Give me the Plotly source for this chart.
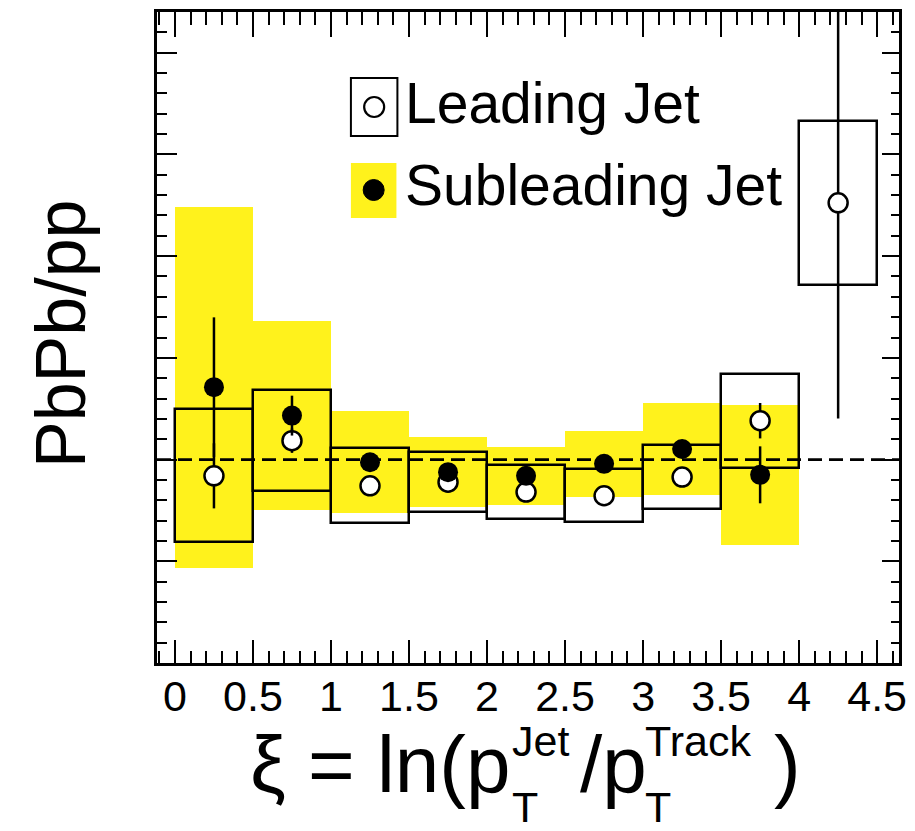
import plotly.graph_objects as go

# xi bins (lower edges), width 0.5
bin_lo = [0.0, 0.5, 1.0, 1.5, 2.0, 2.5, 3.0, 3.5, 4.0]
bin_width = 0.5
xi_mid = [lo + bin_width / 2 for lo in bin_lo]

# Leading jet: PbPb/pp ratio, statistical and systematic (half-height) errors
lead_ratio = [0.92, 1.093, 0.871, 0.889, 0.84, 0.822, 0.914, 1.191, 2.262]
lead_stat = [0.16, 0.06, 0.03, 0.03, 0.03, 0.03, 0.03, 0.087, 1.06]
lead_syst = [0.327, 0.248, 0.184, 0.146, 0.131, 0.13, 0.159, 0.231, 0.403]

# Subleading jet (first eight bins)
sub_ratio = [1.356, 1.216, 0.987, 0.938, 0.92, 0.979, 1.052, 0.925]
sub_stat = [0.343, 0.098, 0.03, 0.03, 0.03, 0.03, 0.03, 0.14]
sub_syst = [0.887, 0.463, 0.25, 0.172, 0.144, 0.163, 0.225, 0.343]

tick_vals = [0, 0.5, 1, 1.5, 2, 2.5, 3, 3.5, 4, 4.5]
tick_text = ["0", "0.5", "1", "1.5", "2", "2.5", "3", "3.5", "4", "4.5"]

X_RANGE = [-0.115, 4.64]
Y_RANGE = [0.0, 3.2]
Y_MAJOR = 0.5
MINOR_STEP = 0.1
REF_LEVEL = 1.0

x_minor = [round(-0.1 + MINOR_STEP * i, 2) for i in range(48)]
y_minor = [round(MINOR_STEP * i, 2) for i in range(33)]
y_major = [round(Y_MAJOR * i, 2) for i in range(7)]

YELLOW = "#fff21c"
FONT = "Liberation Sans, Arial, Helvetica, sans-serif"
LW = 2.5
TW = 2.4

sub_x = xi_mid[:len(sub_ratio)]

fig = go.Figure()

# subleading systematic bands (filled yellow boxes)
fig.add_trace(go.Bar(
    x=sub_x,
    base=[r - s for r, s in zip(sub_ratio, sub_syst)],
    y=[2 * s for s in sub_syst],
    width=bin_width,
    marker=dict(color=YELLOW, line=dict(width=0)),
    showlegend=False,
))

# leading systematic boxes (open black rectangles)
fig.add_trace(go.Bar(
    x=xi_mid,
    base=[r - s for r, s in zip(lead_ratio, lead_syst)],
    y=[2 * s for s in lead_syst],
    width=bin_width,
    marker=dict(color="rgba(0,0,0,0)", line=dict(color="black", width=LW)),
    showlegend=False,
))

# unity reference line
fig.add_trace(go.Scatter(
    x=X_RANGE, y=[REF_LEVEL, REF_LEVEL], mode="lines",
    line=dict(color="black", width=2.8, dash="14px,7px"),
    showlegend=False, hoverinfo="skip",
))

# leading jet points
fig.add_trace(go.Scatter(
    x=xi_mid, y=lead_ratio, mode="markers",
    marker=dict(symbol="circle", size=19, color="white",
                line=dict(color="black", width=LW)),
    error_y=dict(type="data", array=lead_stat, width=0,
                 thickness=LW, color="black"),
    showlegend=False,
))

# subleading jet points
fig.add_trace(go.Scatter(
    x=sub_x, y=sub_ratio, mode="markers",
    marker=dict(symbol="circle", size=20, color="black"),
    error_y=dict(type="data", array=sub_stat, width=0,
                 thickness=LW, color="black"),
    showlegend=False,
))

# invisible traces anchoring the extra tick axes (top/right frame, minor ticks)
for k in (2, 3, 4):
    fig.add_trace(go.Scatter(
        x=X_RANGE, y=[REF_LEVEL, REF_LEVEL], mode="lines",
        line=dict(width=0), opacity=0, xaxis=f"x{k}", yaxis=f"y{k}",
        showlegend=False, hoverinfo="skip",
    ))

# plot area in pixels
L, R, T, B = 157, 8, 12, 168
W, H = 915, 831
PW, PH = W - L - R, H - T - B


def px(xp):
    return (xp - L) / PW


def py(yp):
    return (H - B - yp) / PH


shapes = []
annotations = []

# legend: open box with open circle, yellow box with filled dot
shapes.append(dict(type="rect", xref="paper", yref="paper",
                   x0=px(353), x1=px(400), y0=py(136), y1=py(78),
                   line=dict(color="black", width=2), fillcolor="white"))
shapes.append(dict(type="rect", xref="paper", yref="paper",
                   x0=px(353), x1=px(399), y0=py(218), y1=py(163),
                   line=dict(width=0), fillcolor=YELLOW))
shapes.append(dict(type="circle", xref="paper", yref="paper",
                   xsizemode="pixel", ysizemode="pixel",
                   xanchor=px(376.5), yanchor=py(107),
                   x0=-10, x1=10, y0=-10, y1=10,
                   line=dict(color="black", width=2.2), fillcolor="white"))
shapes.append(dict(type="circle", xref="paper", yref="paper",
                   xsizemode="pixel", ysizemode="pixel",
                   xanchor=px(376), yanchor=py(190),
                   x0=-10.5, x1=10.5, y0=-10.5, y1=10.5,
                   line=dict(color="black", width=1), fillcolor="black"))

annotations.append(dict(text="Leading Jet", xref="paper", yref="paper",
                        x=px(406), y=py(103), xanchor="left", yanchor="middle",
                        showarrow=False, font=dict(family=FONT, size=57, color="black")))
annotations.append(dict(text="Subleading Jet", xref="paper", yref="paper",
                        x=px(406), y=py(185), xanchor="left", yanchor="middle",
                        showarrow=False, font=dict(family=FONT, size=57, color="black")))

# y-axis title
annotations.append(dict(text="PbPb/pp", xref="paper", yref="paper",
                        x=px(60), y=py(334), xanchor="center", yanchor="middle",
                        textangle=-90, showarrow=False,
                        font=dict(family=FONT, size=70, color="black")))

# x-axis title with stacked super/subscripts
big = dict(family=FONT, size=80, color="black")
small = dict(family=FONT, size=43, color="black")
title_parts = [
    ("\u03be = ln(p", px(516), py(764), "right", big),
    ("Jet", px(514), py(741), "left", small),
    ("T", px(514), py(807), "left", small),
    ("/p", px(583), py(764), "left", big),
    ("Track", px(648), py(741), "left", small),
    ("T", px(648), py(807), "left", small),
    (")", px(779), py(764), "left", big),
]
for txt, xx, yy, anc, fnt in title_parts:
    annotations.append(dict(text=txt, xref="paper", yref="paper", x=xx, y=yy,
                            xanchor=anc, yanchor="middle", showarrow=False,
                            font=fnt))

fig.update_layout(
    width=W, height=H,
    margin=dict(l=L, r=R, t=T, b=B, pad=0),
    paper_bgcolor="white", plot_bgcolor="white",
    barmode="overlay", bargap=0,
    shapes=shapes, annotations=annotations,
    showlegend=False,
)


def tick_axis(rng, vals, length, side, line, **extra):
    d = dict(range=rng, tickmode="array", tickvals=vals, ticks="inside",
             ticklen=length, tickwidth=TW, tickcolor="black", side=side,
             showline=line, linewidth=LW, linecolor="black",
             showgrid=False, zeroline=False)
    d.update(extra)
    return d


fig.update_layout(
    # bottom: labelled major ticks
    xaxis=tick_axis(X_RANGE, tick_vals, 23, "bottom", True,
                    ticktext=tick_text, ticklabelstandoff=-6,
                    tickfont=dict(family=FONT, size=43, color="black")),
    # top frame: major ticks
    xaxis2=tick_axis(X_RANGE, tick_vals, 25, "top", True,
                     overlaying="x", anchor="y", showticklabels=False),
    # bottom minor ticks
    xaxis3=tick_axis(X_RANGE, x_minor, 12, "bottom", False,
                     overlaying="x", anchor="y", showticklabels=False),
    # top minor ticks
    xaxis4=tick_axis(X_RANGE, x_minor, 13, "top", False,
                     overlaying="x", anchor="y", showticklabels=False),
    yaxis=tick_axis(Y_RANGE, y_major, 20, "left", True, showticklabels=False),
    yaxis2=tick_axis(Y_RANGE, y_major, 17, "right", True,
                     overlaying="y", anchor="x", showticklabels=False),
    yaxis3=tick_axis(Y_RANGE, y_minor, 10, "left", False,
                     overlaying="y", anchor="x", showticklabels=False),
    yaxis4=tick_axis(Y_RANGE, y_minor, 8, "right", False,
                     overlaying="y", anchor="x", showticklabels=False),
)

fig.write_html("out.html")
